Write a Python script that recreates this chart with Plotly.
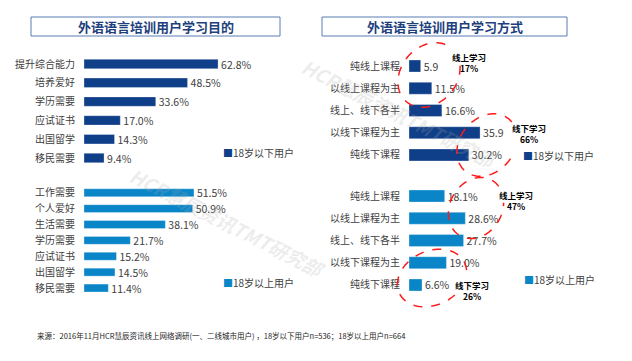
import numpy as np
import plotly.graph_objects as go

# ---------------- data ----------------
purpose_under18_cats = ["提升综合能力", "培养爱好", "学历需要", "应试证书", "出国留学", "移民需要"]
purpose_under18_vals = [62.8, 48.5, 33.6, 17.0, 14.3, 9.4]

purpose_over18_cats = ["工作需要", "个人爱好", "生活需要", "学历需要", "应试证书", "出国留学", "移民需要"]
purpose_over18_vals = [51.5, 50.9, 38.1, 21.7, 15.2, 14.5, 11.4]

mode_cats = ["纯线上课程", "以线上课程为主", "线上、线下各半", "以线下课程为主", "纯线下课程"]
mode_under18_vals = [5.9, 11.5, 16.6, 35.9, 30.2]
mode_under18_text = ["5.9", "11.5%", "16.6%", "35.9", "30.2%"]
mode_over18_vals = [18.1, 28.6, 27.7, 19.0, 6.6]

series_under = "18岁以下用户"
series_over = "18岁以上用户"

title_left = "外语语言培训用户学习目的"
title_right = "外语语言培训用户学习方式"
source_note = "来源：2016年11月HCR慧辰资讯线上网络调研(一、二线城市用户) ，18岁以下用户n=536；18岁以上用户n=664"

callouts = [("线上学习", "17%"), ("线下学习", "66%"), ("线上学习", "47%"), ("线下学习", "26%")]

# ---------------- styling ----------------
OFF = 8            # page body margin
W, H = 632 - OFF, 361 - OFF
FONT = "Noto Sans CJK SC"
DARK = "#0F3F88"
LIGHT = "#0A86C8"
TXT = "#404040"


def X(px):
    return (px - OFF) / W


def Y(py):
    return 1 - (py - OFF) / H


fig = go.Figure()

panels = [
    (1, purpose_under18_cats, purpose_under18_vals, [f"{v:.1f}%" for v in purpose_under18_vals], DARK, series_under, 84, 300, 2.135, 54.6, 167.4, 0.5),
    (2, purpose_over18_cats, purpose_over18_vals, [f"{v:.1f}%" for v in purpose_over18_vals], LIGHT, series_over, 84, 300, 2.135, 184.8, 296.0, 0.5),
    (3, mode_cats, mode_under18_vals, mode_under18_text, DARK, series_under, 409, 620, 1.98, 54.9, 166.1, 0.54),
    (4, mode_cats, mode_over18_vals, [f"{v:.1f}%" for v in mode_over18_vals], LIGHT, series_over, 409, 620, 1.97, 184.9, 296.1, 0.54),
]

layout_axes = {}
for idx, cats, vals, txt, col, name, x0, x1, ppu, yt, yb, bw in panels:
    xa = "x" if idx == 1 else f"x{idx}"
    ya = "y" if idx == 1 else f"y{idx}"
    fig.add_trace(go.Bar(
        y=cats, x=vals, orientation="h", name=name,
        marker=dict(color=col, line=dict(color="rgba(255,255,255,0.5)", width=0.6)),
        width=bw, text=txt, textposition="outside", constraintext="none",
        textfont=dict(family=FONT, size=10.5, color=TXT),
        cliponaxis=False, xaxis=xa, yaxis=ya, showlegend=False,
    ))
    xkey = "xaxis" if idx == 1 else f"xaxis{idx}"
    ykey = "yaxis" if idx == 1 else f"yaxis{idx}"
    layout_axes[xkey] = dict(domain=[X(x0), X(x1)], range=[0, (x1 - x0) / ppu],
                             visible=False, anchor=ya, fixedrange=True, automargin=False)
    layout_axes[ykey] = dict(domain=[Y(yb), Y(yt)], range=[len(cats) - 0.5, -0.5],
                             anchor=xa, showgrid=False, zeroline=False, showline=False,
                             ticks="", ticklabelstandoff=8, automargin=False,
                             tickfont=dict(family=FONT, size=10, color=TXT))

fig.update_layout(**layout_axes)

annotations = []
shapes = []


def ann(x, y, text, size, color, xanchor="center", yanchor="middle", **kw):
    d = dict(x=X(x), y=Y(y), xref="paper", yref="paper", text=text, showarrow=False,
             xanchor=xanchor, yanchor=yanchor, font=dict(family=FONT, size=size, color=color))
    d.update(kw)
    annotations.append(d)


# title boxes
for (bx0, bx1, t) in [(31, 280, title_left), (322, 567, title_right)]:
    shapes.append(dict(type="rect", xref="paper", yref="paper", x0=X(bx0), x1=X(bx1), y0=Y(36), y1=Y(17),
                       line=dict(color="#5B7DB3", width=1), fillcolor="white", layer="below"))
    ann((bx0 + bx1) / 2, 26.5, f"<b>{t}</b>", 13, "#1E3F7D")

# legends
for (lx, ly, col, name) in [(221, 152, DARK, series_under), (221, 282, LIGHT, series_over),
                            (521, 155, DARK, series_under), (522, 279, LIGHT, series_over)]:
    ann(lx, ly, f"<span style='color:{col}'>■</span>{name}", 10, TXT, xanchor="left")

# source
ann(35, 335, source_note, 7.5, "#222222", xanchor="left")

# watermarks
for (wx, wy) in [(400, 113), (228, 222)]:
    ann(wx, wy, "<b><i>HCR慧辰资讯TMT研究部</i></b>", 19, "rgba(170,170,170,0.22)", textangle=27)

# callout ellipses (cx, cy, a, b, theta, t_start, t_end)
ellipses = [
    (429, 75, 35, 28, 50, 15, 325),
    (487, 145, 34, 27, 50, -9, 288),
    (476, 208, 32, 26, 60, -20, 305),
    (432, 278, 36, 27, 25, -16, 292),
]
for cx, cy, a, b, th, t0, t1 in ellipses:
    t = np.radians(np.linspace(t0, t1, 80))
    thr = np.radians(th)
    ex, ey = a * np.cos(t), b * np.sin(t)
    px = cx + ex * np.cos(thr) - ey * np.sin(thr)
    py = cy - (ex * np.sin(thr) + ey * np.cos(thr))
    path = "M " + " L ".join(f"{X(u):.5f},{Y(v):.5f}" for u, v in zip(px, py))
    shapes.append(dict(type="path", xref="paper", yref="paper", path=path,
                       line=dict(color="#FF1A1A", width=1.5, dash="dash")))

callout_pos = [(469, 62), (529, 134), (516, 200), (472, 290)]
for (lbl, pct), (cx, cy) in zip(callouts, callout_pos):
    ann(cx, cy, f"<b>{lbl}<br>{pct}</b>", 8.5, "#000000", align="center")

fig.update_layout(
    width=W, height=H, margin=dict(l=0, r=0, t=0, b=0, pad=0, autoexpand=False),
    paper_bgcolor="white", plot_bgcolor="rgba(0,0,0,0)",
    font=dict(family=FONT, color=TXT), bargap=0.5,
    shapes=shapes, annotations=annotations, showlegend=False,
)

fig.write_html("out.html")
